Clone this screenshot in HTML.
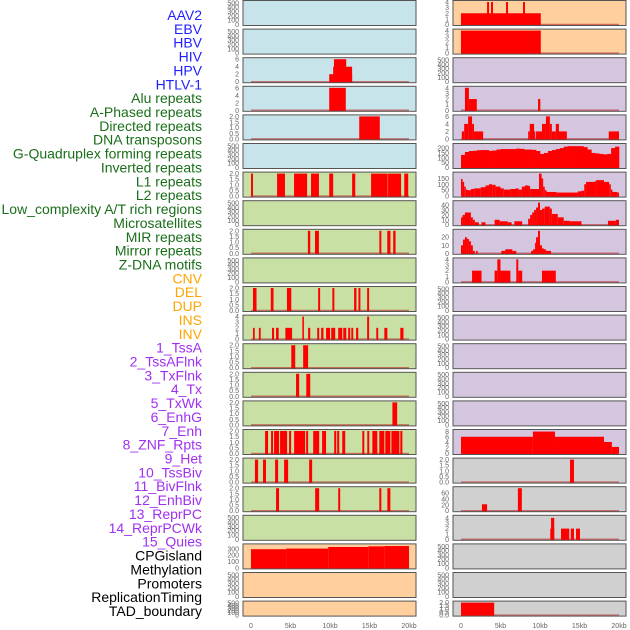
<!DOCTYPE html>
<html><head><meta charset="utf-8">
<style>
html,body{margin:0;padding:0;background:#fff;}
svg{display:block;font-family:"Liberation Sans",sans-serif;}
</style></head>
<body>
<svg id="chart" width="630" height="630" viewBox="0 0 630 630" xmlns="http://www.w3.org/2000/svg"></svg>
<script>
// ---- data ----
const trackLabels = ["AAV2","EBV","HBV","HIV","HPV","HTLV-1","Alu repeats","A-Phased repeats","Directed repeats","DNA transposons","G-Quadruplex forming repeats","Inverted repeats","L1 repeats","L2 repeats","Low_complexity A/T rich regions","Microsatellites","MIR repeats","Mirror repeats","Z-DNA motifs","CNV","DEL","DUP","INS","INV","1_TssA","2_TssAFlnk","3_TxFlnk","4_Tx","5_TxWk","6_EnhG","7_Enh","8_ZNF_Rpts","9_Het","10_TssBiv","11_BivFlnk","12_EnhBiv","13_ReprPC","14_ReprPCWk","15_Quies","CPGisland","Methylation","Promoters","ReplicationTiming","TAD_boundary"];
const xTicks = [0,5,10,15,20];
const xTickLabels = ["0","5kb","10kb","15kb","20kb"];

const ticks500 = [0,100,200,300,400,500];
const ticks2 = [0,0.5,1,1.5,2];
const ticks4 = [0,1,2,3,4];
const ticks6 = [0,2,4,6];

// segments: [startKb, endKb, value]
const L2 = [[9.9,12.8,2],[10.4,12.8,4],[10.5,12.05,6]];
const L3 = [[9.9,12.0,6]];
const L4 = [[13.7,16.3,2]];
const L6 = [[0,0.25,2],[3.3,4.3,2],[5.45,7.1,2],[7.6,8.6,2],[9.9,10.4,2],[12.8,13.2,2],[15.2,17.3,2],[17.35,19.0,2],[19.4,19.9,2]];
const L8 = [[7.2,7.5,2],[8.1,8.6,2],[16.25,16.5,2],[17.25,17.65,2],[18.0,18.3,2]];
const L10 = [[0.25,0.7,2],[2.5,2.85,2],[4.55,5.1,2],[8.5,8.75,2],[10.3,10.55,2],[13.05,13.35,2],[13.6,13.85,2],[14.7,14.95,2]];
const L11 = [[0.25,0.47,2],[1.0,1.23,2],[2.66,2.92,2],[3.17,3.5,2],[4.35,5.2,2],[6.5,6.7,4],[7.23,7.5,2],[8.38,8.63,2],[8.88,9.17,2],[9.5,10.0,2],[10.15,10.66,2],[11.04,11.55,2],[11.68,12.06,2],[12.3,12.56,2],[12.7,12.94,2],[13.3,13.58,2],[14.7,14.95,4],[15.86,16.1,2],[16.88,17.26,2],[18.9,19.3,2]];
const L12 = [[5.1,5.6,2],[6.6,7.23,2]];
const L13 = [[5.7,6.1,2],[7.0,7.5,2]];
const L14 = [[17.9,18.5,2]];
const L15 = [[1.78,2.16,2],[2.54,2.79,2],[2.92,3.55,2],[3.68,4.57,2],[4.82,5.08,2],[5.46,6.85,2],[6.98,7.23,2],[7.87,8.63,2],[9.0,9.5,2],[10.53,10.79,2],[10.91,11.17,2],[11.55,11.93,2],[14.09,14.34,2],[14.72,14.97,2],[15.36,15.99,2],[16.24,16.88,2],[17.0,17.64,2],[17.77,18.78,2],[18.9,19.16,2]];
const L16 = [[0.5,0.9,2],[1.52,1.9,2],[3.05,3.43,2],[4.19,4.7,2],[7.36,7.74,2]];
const L17 = [[3.17,3.55,2],[8.12,8.63,2],[11.04,11.29,2],[16.24,16.5,2],[17.26,17.64,2]];
const L19 = [[0,4.44,295],[4.44,9.77,305],[9.77,14.85,330],[14.85,16.88,340],[16.88,20.0,345]];

const R0 = [[0,10.1,2],[3.3,3.55,4],[3.8,4.05,4],[5.7,5.95,4],[7.85,8.1,4]];
const R1 = [[0,10.1,4]];
const R3 = [[0.5,1.0,4],[1.0,2.0,2],[9.75,10.04,2]];
const R4 = [[0.1,0.4,2],[0.4,0.9,4],[0.9,1.4,6],[1.4,1.65,4],[1.65,2.8,2],[8.5,8.7,2],[8.7,9.25,4],[9.25,9.4,2],[9.5,10.25,2],[10.25,10.75,4],[10.75,11.25,6],[11.25,11.5,4],[11.5,12.0,2],[12.0,12.4,4],[12.4,13.4,2],[18.7,20.0,2]];
// G-Quadruplex curve: values every 0.5kb starting at 0
const R5vals = [130,160,170,172,178,180,180,172,175,185,190,190,190,190,195,192,185,185,182,170,140,150,170,180,190,200,215,220,220,220,220,210,185,150,145,140,135,140,200,215];
const R5dip = [[10.1,10.4,100]];
// step curves in zoom-x edges converted to kb: [start,end,value]
const R6 = [[0,0.2,145],[0.2,0.4,120],[0.4,0.6,80],[0.6,0.83,55],[0.83,1.25,50],[1.25,1.67,60],[1.67,2.5,65],[2.5,3.1,75],[3.1,3.54,90],[3.54,3.96,100],[3.96,4.38,95],[4.38,5.0,80],[5.0,5.42,65],[5.42,6.25,55],[6.25,6.9,60],[6.9,7.3,65],[7.3,7.7,55],[7.7,8.1,80],[8.1,8.54,90],[8.54,8.75,85],[8.75,9.875,60],[9.875,10.2,190],[10.2,10.4,150],[10.4,10.6,80],[10.6,10.83,50],[10.83,12.08,35],[12.08,13.1,30],[13.1,14.8,30],[14.8,15.2,40],[15.2,15.6,45],[15.6,15.83,100],[15.83,16.9,120],[16.9,17.1,125],[17.1,18.1,135],[18.1,18.75,120],[18.75,18.96,100],[18.96,19.17,55],[19.17,19.79,35],[19.79,20.0,30]];
const R7 = [[0,0.2,15],[0.2,0.5,20],[0.5,1.25,25],[1.25,1.5,15],[1.5,1.75,10],[1.75,2.25,5],[2.6,3.1,5],[4.25,4.9,10],[4.9,5.9,7],[5.9,6.4,5],[6.75,7.75,7],[8.5,8.75,12],[8.75,9.0,20],[9.0,9.25,25],[9.25,9.5,30],[9.5,9.75,35],[9.75,10.0,45],[10.0,10.25,30],[10.25,10.6,33],[10.6,11.25,37],[11.25,11.5,33],[11.5,12.25,22],[12.25,13.0,15],[13.0,13.75,8],[13.75,15.25,7],[18.6,19.6,8],[19.6,20.0,10]];
const R8 = [[0,0.25,10],[0.25,0.5,17],[0.5,0.75,20],[0.75,1.0,18],[1.0,1.25,15],[1.25,1.5,10],[1.5,1.75,3],[1.9,2.1,3],[5.1,5.6,3],[5.6,6.5,5],[6.5,7.0,3],[8.875,9.125,3],[9.125,9.375,5],[9.375,9.5,13],[9.5,9.75,20],[9.75,10.0,28],[10.0,10.25,10],[10.25,10.5,6],[10.5,10.75,5],[10.75,11.4,3]];
const R9 = [[1.4,2.6,2],[4.25,4.6,2],[4.6,5.0,4],[5.0,6.25,2],[7.0,7.25,4],[7.25,7.75,2],[10.25,12.0,2]];
const R15 = [[0,9.1,6.1],[9.1,11.9,8],[11.9,18.1,6.1],[18.1,19.1,4.2],[19.1,20.0,2.4]];
const R16 = [[13.8,14.3,2]];
const R17 = [[2.65,3.3,22],[7.2,7.7,77]];
const R18 = [[11.3,11.8,2],[11.4,11.8,4],[12.66,13.7,2],[13.9,14.3,2],[14.56,15.06,2]];
const R21 = [[0,4.2,2]];

// ---- layout ----
const svg = document.getElementById('chart');
const NS = 'http://www.w3.org/2000/svg';
const PITCH = 28.6, PH = 25;
const cols = [{x0:243,x1:416,k0:251,k20:409},{x0:453,x1:626,k0:461,k20:619}];
const C = {blue:'#c8e4eb',green:'#c8e0a4',orange:'#ffd09e',purple:'#d5c6e0',gray:'#d0d0d0'};

function mk(tag, attrs){ const e=document.createElementNS(NS,tag); for(const k in attrs) e.setAttribute(k,attrs[k]); return e; }

// labels
const labelColor = i => i<6?'#1f1fff':i<19?'#1a6e1a':i<24?'#ffa500':i<39?'#a030f0':'#000';
trackLabels.forEach((t,i)=>{
  const e = mk('text',{x:202,y:15+i*13.86+5,'text-anchor':'end','font-size':'14',fill:labelColor(i)});
  e.textContent=t;
  
  
  svg.appendChild(e);
});

const panels = [
 // left column
 {c:0,r:0,bg:'blue',ymax:520,t:ticks500,seg:[]},
 {c:0,r:1,bg:'blue',ymax:520,t:ticks500,seg:[]},
 {c:0,r:2,bg:'blue',ymax:6,t:ticks6,seg:L2,base:1},
 {c:0,r:3,bg:'blue',ymax:6,t:ticks6,seg:L3,base:1},
 {c:0,r:4,bg:'blue',ymax:2,t:ticks2,seg:L4,base:1},
 {c:0,r:5,bg:'blue',ymax:520,t:ticks500,seg:[]},
 {c:0,r:6,bg:'green',ymax:2,t:ticks2,seg:L6,base:1},
 {c:0,r:7,bg:'green',ymax:520,t:ticks500,seg:[]},
 {c:0,r:8,bg:'green',ymax:2,t:ticks2,seg:L8,base:1},
 {c:0,r:9,bg:'green',ymax:520,t:ticks500,seg:[]},
 {c:0,r:10,bg:'green',ymax:2,t:ticks2,seg:L10,base:1},
 {c:0,r:11,bg:'green',ymax:4,t:ticks4,seg:L11,base:1},
 {c:0,r:12,bg:'green',ymax:2,t:ticks2,seg:L12,base:1},
 {c:0,r:13,bg:'green',ymax:2,t:ticks2,seg:L13,base:1},
 {c:0,r:14,bg:'green',ymax:2,t:ticks2,seg:L14,base:1},
 {c:0,r:15,bg:'green',ymax:2,t:ticks2,seg:L15,base:1},
 {c:0,r:16,bg:'green',ymax:2,t:ticks2,seg:L16,base:1},
 {c:0,r:17,bg:'green',ymax:2,t:ticks2,seg:L17,base:1},
 {c:0,r:18,bg:'green',ymax:520,t:ticks500,seg:[]},
 {c:0,r:19,bg:'orange',ymax:355,t:[0,100,200,300],seg:L19},
 {c:0,r:20,bg:'orange',ymax:520,t:ticks500,seg:[]},
 {c:0,r:21,bg:'orange',ymax:520,t:ticks500,seg:[],h:15},
 // right column
 {c:1,r:0,bg:'orange',ymax:4,t:ticks4,seg:R0,base:1},
 {c:1,r:1,bg:'orange',ymax:4,t:ticks4,seg:R1,base:1},
 {c:1,r:2,bg:'purple',ymax:520,t:ticks500,seg:[]},
 {c:1,r:3,bg:'purple',ymax:4,t:ticks4,seg:R3,base:1},
 {c:1,r:4,bg:'purple',ymax:6,t:ticks6,seg:R4,base:1},
 {c:1,r:5,bg:'purple',ymax:232,t:[0,50,100,150,200],seg:R5dip,curve:R5vals},
 {c:1,r:6,bg:'purple',ymax:190,t:[0,50,100,150],seg:R6},
 {c:1,r:7,bg:'purple',ymax:46,t:[0,10,20,30,40],seg:R7,base:1},
 {c:1,r:8,bg:'purple',ymax:28,t:[0,10,20],seg:R8,base:1},
 {c:1,r:9,bg:'purple',ymax:4,t:ticks4,seg:R9,base:1},
 {c:1,r:10,bg:'purple',ymax:520,t:ticks500,seg:[]},
 {c:1,r:11,bg:'purple',ymax:520,t:ticks500,seg:[]},
 {c:1,r:12,bg:'purple',ymax:520,t:ticks500,seg:[]},
 {c:1,r:13,bg:'purple',ymax:520,t:ticks500,seg:[]},
 {c:1,r:14,bg:'purple',ymax:520,t:ticks500,seg:[]},
 {c:1,r:15,bg:'purple',ymax:8.2,t:[0,2,4,6,8],seg:R15},
 {c:1,r:16,bg:'gray',ymax:2,t:ticks2,seg:R16,base:1},
 {c:1,r:17,bg:'gray',ymax:77,t:[0,20,40,60],seg:R17,base:1},
 {c:1,r:18,bg:'gray',ymax:4.2,t:ticks4,seg:R18,base:1},
 {c:1,r:19,bg:'gray',ymax:520,t:ticks500,seg:[]},
 {c:1,r:20,bg:'gray',ymax:520,t:ticks500,seg:[]},
 {c:1,r:21,bg:'gray',ymax:2,t:ticks2,seg:R21,base:1,h:15}
];

const fmt = (v,t)=> t.some(x=>x%1!==0) ? v.toFixed(1) : String(v);

panels.forEach(p=>{
  const col = cols[p.c];
  const top = p.r*PITCH + 0.5, h = p.h||PH, bot = top+h;
  const g = mk('g',{});
  
  
  svg.appendChild(g);
  const xs = kb => col.k0 + (kb/20)*(col.k20-col.k0);
  const ys = v => (bot-1) - (v/p.ymax)*(h-2.5);
  const bg = mk('rect',{x:col.x0,y:top,width:col.x1-col.x0,height:h,fill:C[p.bg]});
  
  
  g.appendChild(bg);
  if(p.base){
    const l = mk('line',{x1:xs(0),x2:xs(20),y1:ys(0),y2:ys(0),stroke:'rgba(190,40,40,0.6)','stroke-width':1.5});
    
    
    g.appendChild(l);
  }
  if(p.curve){
    p.curve.forEach((v,i)=>{
      const r = mk('rect',{x:xs(i*0.5),y:ys(v),width:xs((i+1)*0.5)-xs(i*0.5)+0.3,height:ys(0)-ys(v)+1,fill:'#ff0000'});
      
      
      g.appendChild(r);
    });
  }
  p.seg.forEach(s=>{
    const w = Math.max(1.2, xs(s[1])-xs(s[0]));
    const r = mk('rect',{x:xs(s[0]),y:ys(s[2]),width:w,height:ys(0)-ys(s[2])+1,fill:'#ff0000'});
    
    
    g.appendChild(r);
  });
  const fr = mk('rect',{x:col.x0,y:top,width:col.x1-col.x0,height:h,fill:'none',stroke:'#555','stroke-width':1});
  
  
  g.appendChild(fr);
  p.t.forEach(v=>{
    const tx = mk('text',{x:col.x0-4,y:ys(v)+2.5,'text-anchor':'end','font-size':'7',fill:'#666'});
    tx.textContent = fmt(v,p.t);
    
    
    g.appendChild(tx);
  });
});

// x axes
cols.forEach(col=>{
  xTicks.forEach((k,i)=>{
    const x = col.k0 + (k/20)*(col.k20-col.k0);
    const t = mk('text',{x:x,y:628,'text-anchor':'middle','font-size':'7',fill:'#666'});
    t.textContent = xTickLabels[i];
    
    
    svg.appendChild(t);
  });
});
</script>
</body></html>
